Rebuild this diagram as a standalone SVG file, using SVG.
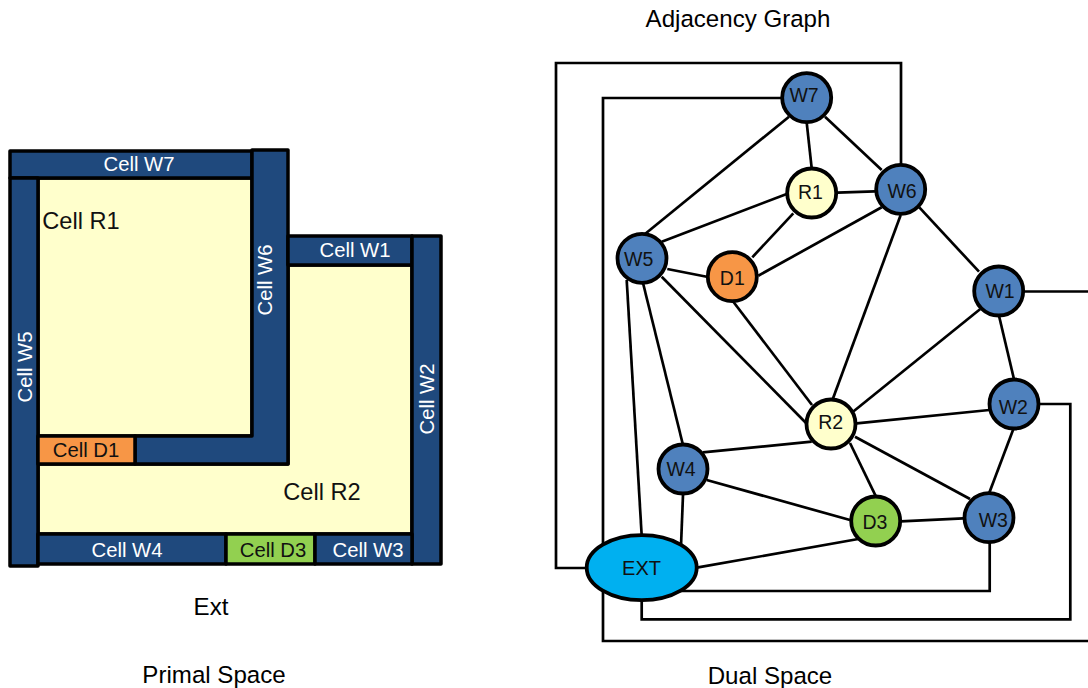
<svg xmlns="http://www.w3.org/2000/svg" width="1088" height="688" viewBox="0 0 1088 688">
<style>
text{font-family:"Liberation Sans",Arial,sans-serif;text-anchor:middle;fill:#000}
.t{font-size:24.100px}
.c{font-size:20.300px;fill:#fff}
.d{font-size:20.300px;fill:#111}
.r{font-size:23.600px;fill:#111}
.n{font-size:19.500px;fill:#111}
.cell{stroke:#000;stroke-width:3.500;stroke-linejoin:round}
.navy{fill:#1F497D}
.yel{fill:#FFFFCC}
.node{stroke:#000;stroke-width:3.800}
.bl{fill:#4F81BD}
#connectors path,#connectors line{fill:none;stroke:#000;stroke-width:2.700}
</style>

<g id="primal">
<rect id="cell-r1" class="cell yel" x="38" y="178" width="214" height="258"/>
<path id="cell-r2" class="cell yel" d="M288 265H412V534H38V464H288Z"/>
<rect id="cell-w7" class="cell navy" x="10" y="151" width="242" height="27"/>
<rect id="cell-w5" class="cell navy" x="10" y="178" width="28" height="388"/>
<path id="cell-w6" class="cell navy" d="M252 150H288V464H135V436H252Z"/>
<rect id="cell-d1" class="cell" fill="#F79646" x="38" y="436" width="97" height="28"/>
<rect id="cell-w1" class="cell navy" x="288" y="236" width="124" height="29"/>
<rect id="cell-w2" class="cell navy" x="412" y="236" width="29" height="328"/>
<rect id="cell-w4" class="cell navy" x="38" y="534" width="188" height="30"/>
<rect id="cell-d3" class="cell" fill="#92D050" x="226" y="534" width="89" height="30"/>
<rect id="cell-w3" class="cell navy" x="315" y="534" width="97" height="30"/>
<text class="c" x="139" y="171">Cell W7</text>
<text class="c" x="355" y="257">Cell W1</text>
<text class="c" transform="translate(32 367) rotate(-90)">Cell W5</text>
<text class="c" transform="translate(271.500 280) rotate(-90)">Cell W6</text>
<text class="c" transform="translate(434 399) rotate(-90)">Cell W2</text>
<text class="r" x="81" y="229">Cell R1</text>
<text class="r" x="322" y="500">Cell R2</text>
<text class="d" x="86" y="457">Cell D1</text>
<text class="c" x="127" y="557">Cell W4</text>
<text class="d" x="273" y="557">Cell D3</text>
<text class="c" x="368" y="557">Cell W3</text>
<text class="t" x="211" y="615">Ext</text>
<text class="t" x="214" y="683">Primal Space</text>
</g>

<text class="t" x="738" y="27">Adjacency Graph</text>
<text class="t" x="770" y="684">Dual Space</text>

<g id="connectors">
<path d="M587 568H556V63H901V170"/>
<path d="M785 98H603V641H1088"/>
<path d="M1020 291.500H1088"/>
<path d="M1036 404H1070.300V619.300H641.700V595"/>
<path d="M989.700 540V591H680"/>
<line x1="645" y1="234" x2="789" y2="116.700"/>
<line x1="661.700" y1="241.700" x2="786.700" y2="194"/>
<line x1="667.300" y1="269" x2="706.700" y2="276.700"/>
<line x1="661.700" y1="276.700" x2="808" y2="425"/>
<line x1="643" y1="283" x2="683" y2="445"/>
<line x1="626.700" y1="280" x2="641.700" y2="536"/>
<line x1="806.700" y1="122.700" x2="811.700" y2="168.300"/>
<line x1="825" y1="116.700" x2="881.700" y2="170"/>
<line x1="837.300" y1="192.700" x2="875" y2="191.300"/>
<line x1="793.300" y1="213.300" x2="752.300" y2="257.300"/>
<line x1="758.300" y1="275.700" x2="881.700" y2="207.300"/>
<line x1="733.300" y1="301.700" x2="812" y2="405"/>
<line x1="900.700" y1="215" x2="832.700" y2="399.300"/>
<line x1="919.300" y1="207.300" x2="979" y2="271.700"/>
<line x1="980" y1="309.300" x2="853" y2="411.700"/>
<line x1="999" y1="315.700" x2="1014" y2="379.300"/>
<line x1="856.700" y1="423.300" x2="989.300" y2="410"/>
<line x1="1013.300" y1="429.300" x2="989.300" y2="492.700"/>
<line x1="702.700" y1="452.300" x2="811.700" y2="441.700"/>
<line x1="850" y1="443" x2="876" y2="496.700"/>
<line x1="855" y1="436.700" x2="970" y2="499"/>
<line x1="706.700" y1="480" x2="850" y2="520"/>
<line x1="683" y1="495" x2="681" y2="546"/>
<line x1="696.700" y1="567.700" x2="858.300" y2="539"/>
<line x1="900.700" y1="521.300" x2="963.300" y2="518.300"/>
</g>

<g id="W7"><circle class="node bl" cx="806.700" cy="97.700" r="24.500"/><text class="n" x="804" y="101.500">W7</text></g>
<g id="R1"><circle class="node yel" cx="811.700" cy="193" r="24.500"/><text class="n" x="810.500" y="198.500">R1</text></g>
<g id="W6"><circle class="node bl" cx="900.700" cy="189.300" r="24.500"/><text class="n" x="902" y="197.500">W6</text></g>
<g id="W5"><circle class="node bl" cx="642" cy="258.300" r="24.500"/><text class="n" x="638.700" y="266">W5</text></g>
<g id="D1"><circle class="node" fill="#F79646" cx="732.300" cy="276.700" r="24.500"/><text class="n" x="732.300" y="285">D1</text></g>
<g id="W1"><circle class="node bl" cx="998.700" cy="291" r="24.500"/><text class="n" x="1000" y="298">W1</text></g>
<g id="W2"><circle class="node bl" cx="1014" cy="404" r="24.500"/><text class="n" x="1013.300" y="414">W2</text></g>
<g id="R2"><circle class="node yel" cx="831" cy="424" r="24.500"/><text class="n" x="830.700" y="429">R2</text></g>
<g id="W4"><circle class="node bl" cx="683" cy="469" r="24.500"/><text class="n" x="681" y="476">W4</text></g>
<g id="D3"><circle class="node" fill="#92D050" cx="875.700" cy="521" r="24.500"/><text class="n" x="875" y="529.300">D3</text></g>
<g id="W3"><circle class="node bl" cx="989" cy="517.700" r="24.500"/><text class="n" x="993.300" y="527">W3</text></g>
<g id="EXT"><ellipse class="node" fill="#00B0F0" cx="641.700" cy="567.700" rx="55" ry="32.500"/><text class="n" x="641.500" y="575" style="font-size:20px">EXT</text></g>
</svg>
